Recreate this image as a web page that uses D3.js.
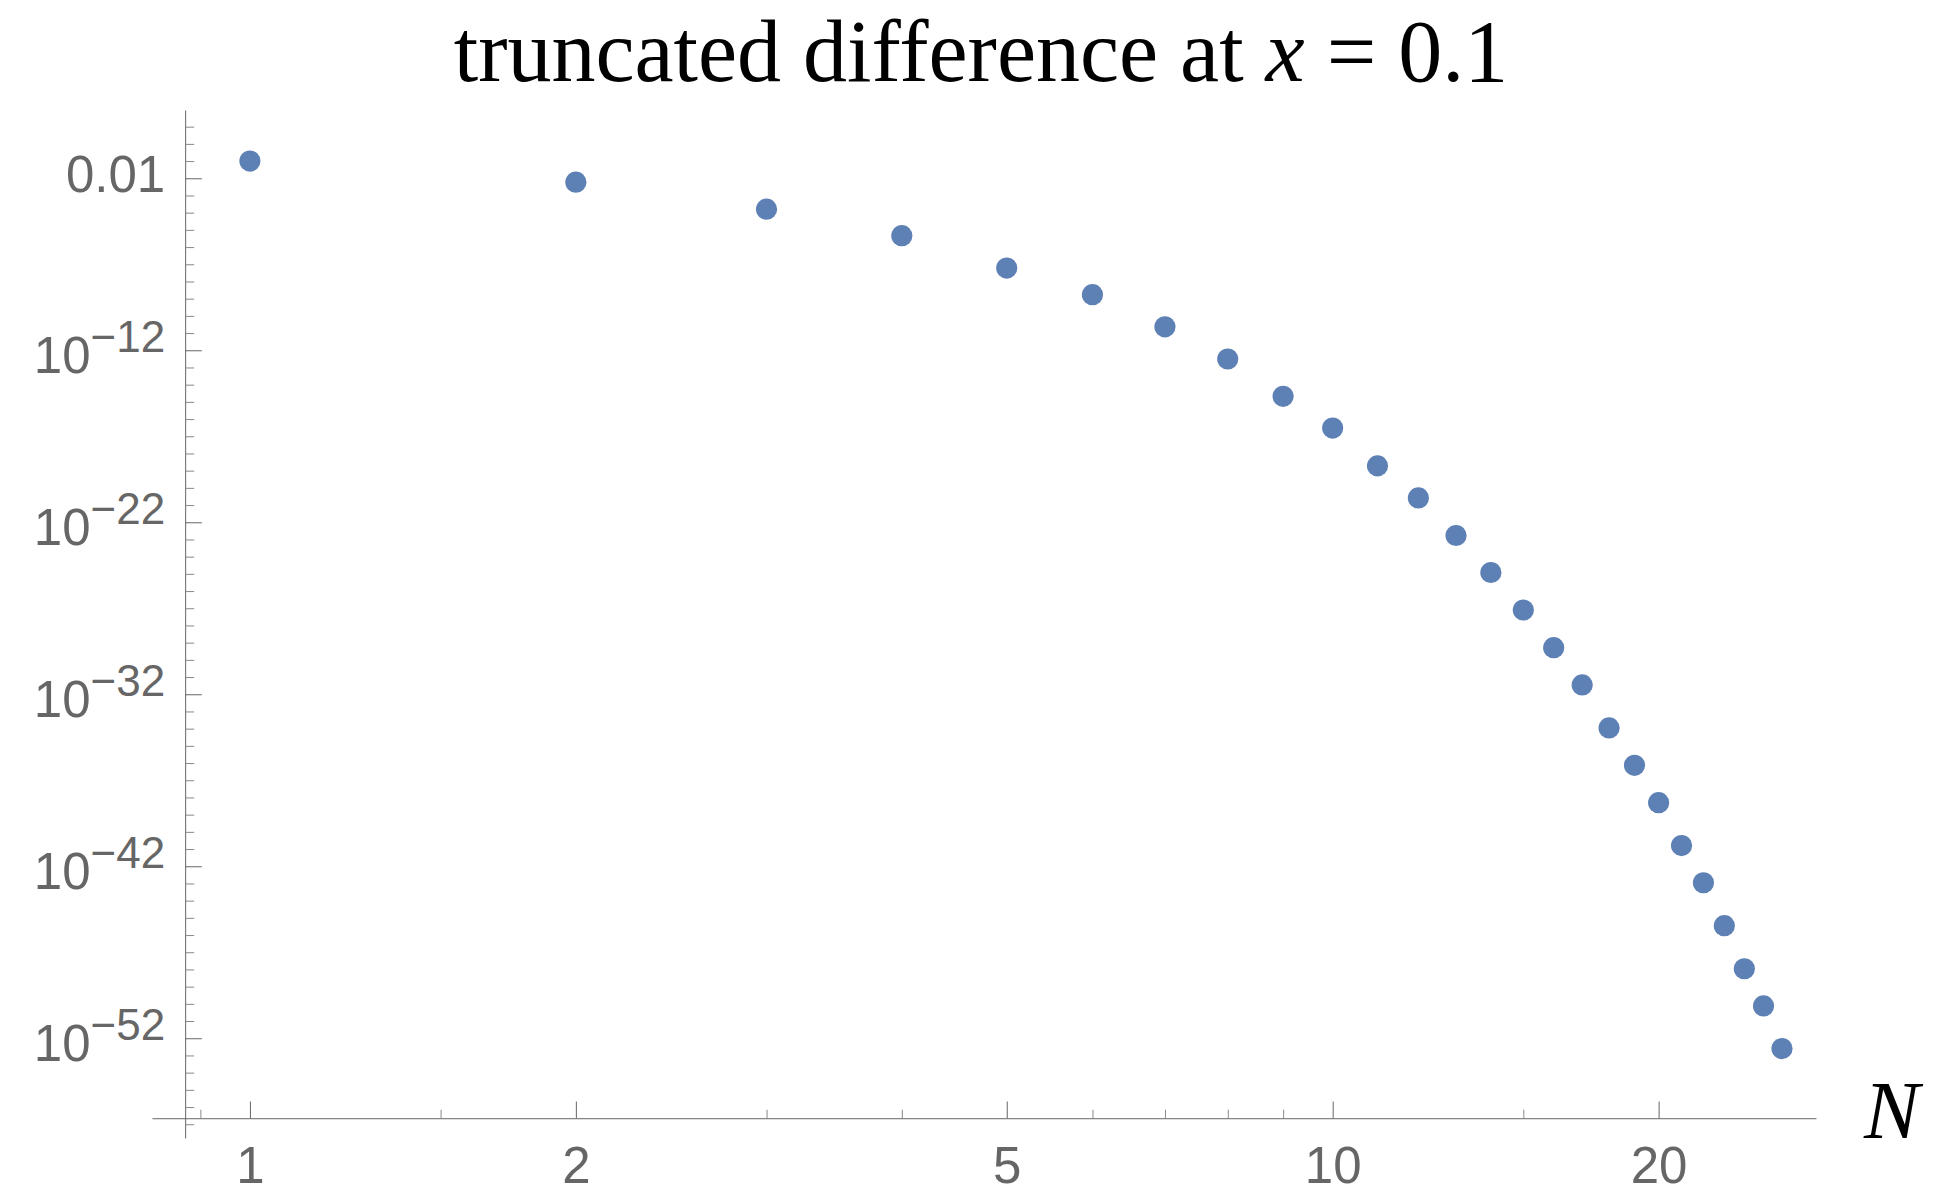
<!DOCTYPE html>
<html>
<head>
<meta charset="utf-8">
<script src="https://cdn.jsdelivr.net/npm/d3@7"></script>
<style>
  body { margin: 0; background: #fff; }
  text { font-family: "Liberation Sans", Arial, sans-serif; }
</style>
</head>
<body>
<svg></svg>
<script>
// data
var truncN = [1, 2, 3, 4, 5, 6, 7, 8, 9, 10, 11, 12, 13, 14, 15, 16, 17, 18, 19, 20, 21, 22, 23, 24, 25, 26];
var truncDiff = [1.0e-1, 5.9e-3, 1.6e-4, 4.6e-6, 6.0e-8, 1.7e-9, 2.3e-11, 3.1e-13, 2.1e-15, 3.0e-17,
  1.9e-19, 2.6e-21, 1.7e-23, 1.2e-25, 7.9e-28, 5.1e-30, 3.5e-32, 1.1e-34, 7.4e-37, 5.0e-39,
  1.6e-41, 1.1e-43, 3.5e-46, 1.1e-48, 7.6e-51, 2.5e-53];

var xMajorTicks = [1, 2, 5, 10, 20];
var xMinorTicks = [0.9, 1.5, 3, 4, 6, 7, 8, 9, 15];
var yMajorExps = [-2, -12, -22, -32, -42, -52];
var yMinorExps = d3.range(1, -58, -1).filter(function (e) { return yMajorExps.indexOf(e) < 0; });

var svgWidth = 1933,
  svgHeight = 1187;

var svg = d3.select("svg").attr("width", svgWidth).attr("height", svgHeight);

var x = d3.scaleLog().domain([0.812, 27.95]).range([152, 1816]);
var y = d3.scaleLog().domain([Math.pow(10, -57.8), Math.pow(10, 1.97)]).range([1138, 110]);

// where the axes cross
var axisX = x(0.8713),
  axisY = y(Math.pow(10, -56.65));

var grey = "#666";

// x axis: minor ticks first, then majors with labels
svg.append("g")
  .attr("transform", "translate(0," + axisY + ")")
  .call(d3.axisBottom(x).tickValues(xMinorTicks).tickSize(-8.5).tickSizeOuter(0).tickFormat(""))
  .call(function (g) {
    g.select(".domain").attr("stroke", grey);
    g.selectAll(".tick line").attr("stroke", "#888");
  });

svg.append("g")
  .attr("transform", "translate(0," + axisY + ")")
  .call(d3.axisBottom(x).tickValues(xMajorTicks).tickSize(-16.7).tickSizeOuter(0).tickPadding(29)
    .tickFormat(d3.format("d")))
  .call(function (g) {
    g.select(".domain").remove();
    g.selectAll(".tick line").attr("stroke", grey);
    g.selectAll(".tick text").attr("fill", grey).attr("font-size", 51);
  });

// y axis
svg.append("g")
  .attr("transform", "translate(" + axisX + ",0)")
  .call(d3.axisLeft(y).tickValues(yMinorExps.map(function (e) { return Math.pow(10, e); }))
    .tickSize(-9).tickSizeOuter(0).tickFormat(""))
  .call(function (g) {
    g.select(".domain").attr("stroke", grey);
    g.selectAll(".tick line").attr("stroke", "#888");
  });

var yMajor = svg.append("g")
  .attr("transform", "translate(" + axisX + ",0)")
  .call(d3.axisLeft(y).tickValues(yMajorExps.map(function (e) { return Math.pow(10, e); }))
    .tickSize(-16.7).tickSizeOuter(0).tickPadding(20).tickFormat(""));

yMajor.select(".domain").remove();
yMajor.selectAll(".tick line").attr("stroke", grey);
yMajor.selectAll(".tick text")
  .attr("fill", grey)
  .attr("font-size", 51)
  .each(function (d, i) {
    var t = d3.select(this);
    var e = yMajorExps[i];
    if (e === -2) {
      t.attr("dy", 13.4).text("0.01");
    } else {
      t.attr("dy", 22.7);
      t.append("tspan").text("10");
      t.append("tspan").attr("font-size", 44).attr("dy", -21).text("\u2212" + (-e));
    }
  });

// points
svg.append("g")
  .selectAll("circle")
  .data(truncN)
  .enter()
  .append("circle")
  .attr("cx", function (d) { return x(d); })
  .attr("cy", function (d, i) { return y(truncDiff[i]); })
  .attr("r", 10.6)
  .attr("fill", "#5e81b5");

// title
var title = svg.append("text")
  .attr("x", 981)
  .attr("y", 81)
  .attr("text-anchor", "middle")
  .style("font-family", "'Liberation Serif', 'Times New Roman', serif")
  .attr("font-size", 88)
  .attr("fill", "#000");
title.append("tspan").text("truncated difference at ");
title.append("tspan").attr("font-style", "italic").text("x");
title.append("tspan").text(" = 0.1");

// axis label N
svg.append("text")
  .attr("x", 1864)
  .attr("y", 1138)
  .style("font-family", "'Liberation Serif', 'Times New Roman', serif")
  .attr("font-style", "italic")
  .attr("font-size", 83)
  .attr("fill", "#000")
  .text("N");
</script>
</body>
</html>
